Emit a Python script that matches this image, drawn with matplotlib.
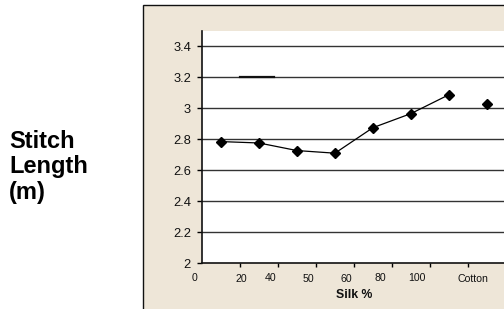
import matplotlib
matplotlib.use("Agg")
import matplotlib.pyplot as plt
from matplotlib.patches import Rectangle
import numpy as np

plt.rcParams['font.family'] = ['Liberation Sans', 'DejaVu Sans']

# Data
silk_values = [2.785, 2.776, 2.727, 2.71, 2.875, 2.966, 3.088]
cotton_value = 3.03
x_labels = ["0", "20", "40", "50", "60", "80", "100", "Cotton"]
x_label_pos = [-0.21, 1.04, 1.81, 2.79, 3.79, 4.7, 5.66, 7.13]
x_label_lift = [0, 1, 0, 1, 1, 0, 0, 1]
y_ticks = [2, 2.2, 2.4, 2.6, 2.8, 3, 3.2, 3.4]
y_tick_labels = ["2", "2.2", "2.4", "2.6", "2.8", "3", "3.2", "3.4"]

W, H = 504, 309
fig = plt.figure(figsize=(W / 100, H / 100), dpi=100)
fig.patch.set_facecolor("white")

# beige chart area
bg = Rectangle((143 / W, -0.05), 1.0, (H - 5) / H + 0.05, transform=fig.transFigure,
               facecolor="#EEE6D8", edgecolor="#111111", linewidth=1.0, zorder=-5)
fig.patches.append(bg)

ax = fig.add_axes([202 / W, 46 / H, (W - 202) / W, (263 - 31) / H])
ax.set_zorder(2)
ax.set_facecolor("white")
ax.set_xlim(0, 7.95)
ax.set_ylim(2, 3.5)

for yv in y_ticks[1:]:
    ax.axhline(yv, color="#333333", linewidth=1.0, zorder=1)
# short dark segment at 3.2
ax.plot([1, 1.9], [3.2, 3.2], color="#111111", linewidth=1.6, zorder=2)

xs = np.arange(len(silk_values)) + 0.5
ax.plot(xs, silk_values, color="black", linewidth=0.9, marker="D", markersize=5.5,
        markerfacecolor="black", markeredgecolor="black", zorder=3)
ax.plot([len(silk_values) + 0.5], [cotton_value], linestyle="none", marker="D",
        markersize=5.5, color="black", zorder=3)

for s in ["top", "right"]:
    ax.spines[s].set_visible(False)
for s in ["left", "bottom"]:
    ax.spines[s].set_color("#111111")
    ax.spines[s].set_linewidth(1.2)

ax.set_yticks(y_ticks)
ax.set_yticklabels(y_tick_labels, fontsize=9.3, color="#111111")
ax.tick_params(axis="y", direction="out", length=3.6, width=1, pad=4.3)
ax.set_xticks(np.arange(1, 8))
ax.set_xticklabels([])
ax.tick_params(axis="x", direction="out", length=3, width=1)

for lab, pos, lift in zip(x_labels, x_label_pos, x_label_lift):
    yy = -0.063 if lift == 0 else -0.069
    ax.text(pos, yy, lab, transform=ax.get_xaxis_transform(), ha="center", va="center",
            fontsize=7.6, color="#111111", clip_on=False)

fig.text(354 / W, 1 - 295 / H, "Silk %", ha="center", va="center", fontsize=8.8,
         fontweight="bold", color="#111111")

fig.text(9 / W, 1 - 167 / H, "Stitch\nLength\n(m)", ha="left", va="center",
         fontsize=17, fontweight="bold", color="black", linespacing=1.15)

fig.savefig("out.png", dpi=100)
